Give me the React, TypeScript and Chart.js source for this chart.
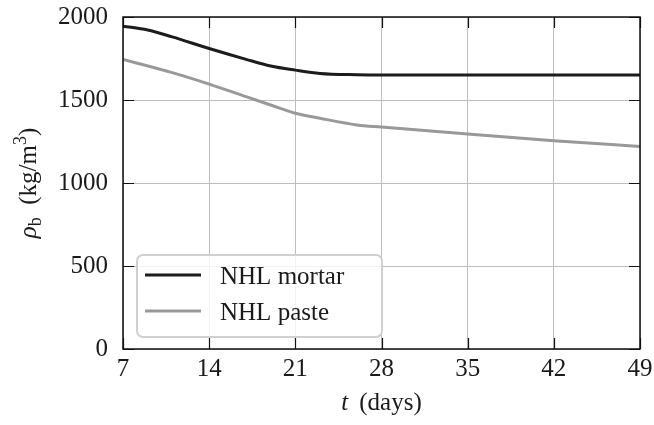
import React, { useEffect, useRef } from "react";
import { Chart, registerables } from "chart.js";
Chart.register(...registerables);

const mortarDays = [7, 9, 11, 14, 17, 19, 21, 23, 26, 28, 35, 42, 49];
const mortarValues = [1945, 1922, 1880, 1810, 1745, 1705, 1680, 1660, 1652, 1650, 1650, 1650, 1650];
const pasteDays = [7, 11, 14, 17, 19, 21, 23, 26, 28, 35, 42, 49];
const pasteValues = [1745, 1665, 1596, 1520, 1470, 1420, 1390, 1350, 1337, 1295, 1255, 1220];
const xTicks = [7, 14, 21, 28, 35, 42, 49];
const yTicks = [0, 500, 1000, 1500, 2000];
const seriesNames = ["NHL mortar", "NHL paste"];
const seriesColors = ["#1c1c1c", "#999999"];

const FONT = "'Liberation Serif', 'DejaVu Serif', serif";

const decorPlugin = {
  id: "decor",
  afterDraw(chart: any) {
    const { ctx, chartArea: a } = chart;
    const xs = chart.scales.x;
    const ys = chart.scales.y;
    ctx.save();
    // inward ticks
    ctx.strokeStyle = "#111";
    ctx.lineWidth = 1.2;
    const tl = 11;
    xTicks.forEach((v) => {
      const px = Math.round(xs.getPixelForValue(v)) + 0.5;
      ctx.beginPath();
      ctx.moveTo(px, a.bottom);
      ctx.lineTo(px, a.bottom - tl);
      ctx.moveTo(px, a.top);
      ctx.lineTo(px, a.top + tl);
      ctx.stroke();
    });
    yTicks.forEach((v) => {
      const py = Math.round(ys.getPixelForValue(v)) + 0.5;
      ctx.beginPath();
      ctx.moveTo(a.left, py);
      ctx.lineTo(a.left + tl, py);
      ctx.moveTo(a.right, py);
      ctx.lineTo(a.right - tl, py);
      ctx.stroke();
    });
    // frame
    ctx.lineWidth = 1.5;
    ctx.strokeStyle = "#111";
    ctx.strokeRect(a.left, a.top, a.right - a.left, a.bottom - a.top);

    ctx.fillStyle = "#1a1a1a";
    // x title
    const cx = (a.left + a.right) / 2;
    ctx.textBaseline = "alphabetic";
    ctx.textAlign = "left";
    ctx.font = `italic 25px ${FONT}`;
    const tW = ctx.measureText("t").width;
    ctx.font = `25px ${FONT}`;
    const dW = ctx.measureText("(days)").width;
    const gap = 11;
    const total = tW + gap + dW;
    const sx = cx - total / 2;
    ctx.font = `italic 25px ${FONT}`;
    ctx.fillText("t", sx, 410);
    ctx.font = `25px ${FONT}`;
    ctx.fillText("(days)", sx + tW + gap, 410);

    // y title
    const segs: [string, string, number][] = [
      ["ρ", `italic 25px ${FONT}`, 0],
      ["b", `18px ${FONT}`, 5],
      ["  (kg/m", `25px ${FONT}`, 0],
      ["3", `18px ${FONT}`, -10],
      [")", `25px ${FONT}`, 0],
    ];
    let tot = 0;
    const widths = segs.map(([s, f]) => {
      ctx.font = f;
      const w = ctx.measureText(s).width;
      tot += w;
      return w;
    });
    ctx.save();
    ctx.translate(36, (a.top + a.bottom) / 2);
    ctx.rotate(-Math.PI / 2);
    let p = -tot / 2;
    segs.forEach(([s, f, dy], i) => {
      ctx.font = f;
      ctx.fillText(s, p, dy);
      p += widths[i];
    });
    ctx.restore();

    // legend
    const lx = 137, ly = 255, lw = 245, lh = 82, r = 6;
    ctx.beginPath();
    ctx.moveTo(lx + r, ly);
    ctx.arcTo(lx + lw, ly, lx + lw, ly + lh, r);
    ctx.arcTo(lx + lw, ly + lh, lx, ly + lh, r);
    ctx.arcTo(lx, ly + lh, lx, ly, r);
    ctx.arcTo(lx, ly, lx + lw, ly, r);
    ctx.closePath();
    ctx.fillStyle = "rgba(255,255,255,0.8)";
    ctx.fill();
    ctx.strokeStyle = "#d0d0d0";
    ctx.lineWidth = 2;
    ctx.stroke();
    const rows = [275, 311];
    seriesNames.forEach((name, i) => {
      ctx.strokeStyle = seriesColors[i];
      ctx.lineWidth = 3;
      ctx.beginPath();
      ctx.moveTo(145, rows[i]);
      ctx.lineTo(201, rows[i]);
      ctx.stroke();
      ctx.fillStyle = "#1a1a1a";
      ctx.font = `25px ${FONT}`;
      ctx.textBaseline = "alphabetic";
      ctx.fillText(name, 220, rows[i] + 9);
    });
    ctx.restore();
  },
};

export default function App() {
  const ref = useRef<HTMLCanvasElement>(null);
  useEffect(() => {
    document.body.style.margin = "0";
    const chart = new Chart(ref.current!, {
      type: "line",
      data: {
        datasets: [
          {
            label: seriesNames[0],
            data: mortarDays.map((d, i) => ({ x: d, y: mortarValues[i] })),
            borderColor: seriesColors[0],
            borderWidth: 3,
            pointRadius: 0,
            cubicInterpolationMode: "monotone",
          },
          {
            label: seriesNames[1],
            data: pasteDays.map((d, i) => ({ x: d, y: pasteValues[i] })),
            borderColor: seriesColors[1],
            borderWidth: 3,
            pointRadius: 0,
            cubicInterpolationMode: "monotone",
          },
        ],
      },
      options: {
        animation: false,
        responsive: false,
        layout: { padding: { top: 17, right: 14, left: 0, bottom: 0 } },
        plugins: { legend: { display: false }, tooltip: { enabled: false } },
        scales: {
          x: {
            type: "linear",
            min: 7,
            max: 49,
            afterBuildTicks: (s: any) => {
              s.ticks = xTicks.map((v) => ({ value: v }));
            },
            afterFit: (s: any) => {
              s.height = 76;
            },
            ticks: {
              font: { family: FONT, size: 25, lineHeight: "40px" },
              color: "#1a1a1a",
              padding: 0,
              maxRotation: 0,
              callback: (v: any) => String(v),
            },
            grid: { color: "#bdbdbd", lineWidth: 1, drawTicks: false },
            border: { display: false },
          },
          y: {
            min: 0,
            max: 2000,
            afterBuildTicks: (s: any) => {
              s.ticks = yTicks.map((v) => ({ value: v }));
            },
            afterFit: (s: any) => {
              s.width = 123;
            },
            ticks: {
              font: { family: FONT, size: 25, lineHeight: 0.05 },
              color: "#1a1a1a",
              padding: 15,
              callback: (v: any) => String(v),
            },
            grid: { color: "#bdbdbd", lineWidth: 1, drawTicks: false },
            border: { display: false },
          },
        },
      },
      plugins: [decorPlugin],
    } as any);
    return () => chart.destroy();
  }, []);
  return (
    <div style={{ width: 654, height: 425 }}>
      <canvas ref={ref} width={654} height={425} style={{ width: 654, height: 425 }} />
    </div>
  );
}
